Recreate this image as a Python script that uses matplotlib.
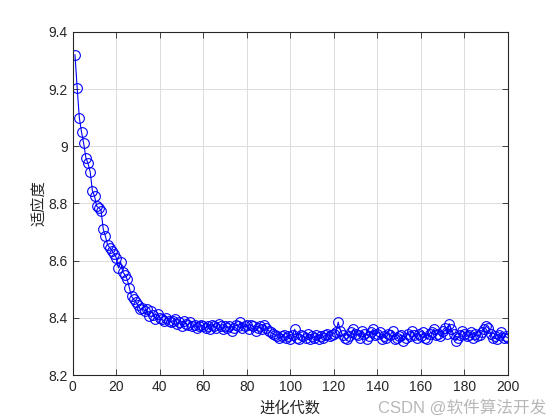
import matplotlib
matplotlib.use("Agg")
import matplotlib.pyplot as plt
from matplotlib.ticker import FuncFormatter

plt.rcParams['font.family'] = ['Liberation Sans', 'Noto Sans CJK SC', 'DejaVu Sans']

# fitness per generation
fitness = [
    9.32, 9.205, 9.10, 9.05, 9.01, 8.96, 8.94, 8.91, 8.845, 8.825,
    8.79, 8.785, 8.775, 8.71, 8.685, 8.655, 8.645, 8.635, 8.625, 8.61,
    8.575, 8.595, 8.56, 8.55, 8.535, 8.505, 8.475, 8.465, 8.455, 8.445,
    8.43, 8.435, 8.425, 8.43, 8.405, 8.425, 8.41, 8.395, 8.415, 8.40,
    8.395, 8.39, 8.40, 8.39, 8.385, 8.39, 8.395, 8.38, 8.385, 8.37,
    8.39, 8.38, 8.375, 8.385, 8.37, 8.375, 8.365, 8.37, 8.375, 8.37,
    8.365, 8.37, 8.36, 8.375, 8.37, 8.365, 8.38, 8.37, 8.36, 8.37,
    8.365, 8.37, 8.355, 8.365, 8.375, 8.37, 8.385, 8.365, 8.37, 8.375,
    8.36, 8.375, 8.37, 8.355, 8.365, 8.37, 8.36, 8.375, 8.365, 8.355,
    8.35, 8.345, 8.34, 8.335, 8.33, 8.335, 8.34, 8.33, 8.335, 8.325,
    8.34, 8.36, 8.33, 8.325, 8.34, 8.335, 8.33, 8.345, 8.325, 8.335,
    8.33, 8.34, 8.325, 8.335, 8.33, 8.34, 8.345, 8.335, 8.34, 8.345,
    8.35, 8.385, 8.355, 8.34, 8.33, 8.325, 8.335, 8.35, 8.36, 8.345,
    8.34, 8.33, 8.355, 8.345, 8.325, 8.335, 8.35, 8.36, 8.34, 8.345,
    8.35, 8.325, 8.335, 8.33, 8.345, 8.34, 8.355, 8.325, 8.33, 8.335,
    8.34, 8.32, 8.33, 8.345, 8.335, 8.355, 8.34, 8.33, 8.345, 8.335,
    8.35, 8.33, 8.325, 8.345, 8.35, 8.36, 8.34, 8.345, 8.335, 8.355,
    8.365, 8.345, 8.38, 8.36, 8.345, 8.32, 8.33, 8.34, 8.355, 8.345,
    8.335, 8.34, 8.35, 8.33, 8.345, 8.335, 8.34, 8.35, 8.36, 8.37,
    8.365, 8.345, 8.33, 8.335, 8.325, 8.34, 8.35, 8.33, 8.335, 8.33,
]
generations = list(range(1, len(fitness) + 1))

x_ticks = [0, 20, 40, 60, 80, 100, 120, 140, 160, 180, 200]
y_ticks = [8.2, 8.4, 8.6, 8.8, 9.0, 9.2, 9.4]

fig = plt.figure(figsize=(5.6, 4.2), dpi=100)
ax = fig.add_axes([0.13, 0.107, 0.777, 0.817])

ax.plot(generations, fitness, color='blue', linewidth=0.8, marker='o',
        markersize=7, markerfacecolor='none', markeredgewidth=0.8)

ax.set_xlim(0, 200)
ax.set_ylim(8.2, 9.4)
ax.set_xticks(x_ticks)
ax.set_yticks(y_ticks)
ax.yaxis.set_major_formatter(FuncFormatter(lambda v, p: '%g' % round(v, 2)))
ax.grid(True, color='#dcdcdc', linewidth=0.7)
ax.set_axisbelow(True)
ax.tick_params(direction='in', top=True, right=True, labelsize=10,
               colors='#262626', length=4, width=0.6)
for s in ax.spines.values():
    s.set_linewidth(0.8)
    s.set_color('#262626')

ax.set_xlabel('进化代数', fontsize=11, family=['Noto Sans CJK SC'], color='#262626')
ax.set_ylabel('适应度', fontsize=11, family=['Noto Sans CJK SC'], color='#262626',
              labelpad=1)

# watermark
fig.text(0.975, 0.03, 'CSDN @软件算法开发', ha='right', va='center',
         fontsize=12, color='#b0b0b0', alpha=0.9,
         family=['Liberation Sans', 'Noto Sans CJK SC'])

fig.savefig('out.png', dpi=100)
